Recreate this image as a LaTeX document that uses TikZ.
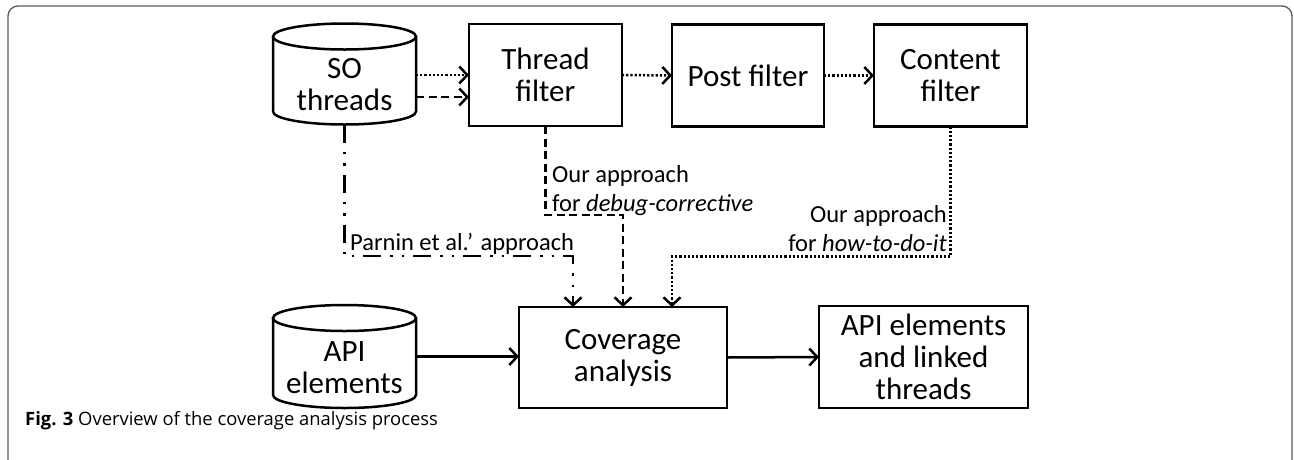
\documentclass[tikz,border=0pt]{standalone}
\usepackage{fontspec}
\setmainfont{Carlito}
\newfontfamily\capfont{Open Sans}
\usetikzlibrary{arrows.meta}
\begin{document}
\begin{tikzpicture}[x=1pt,y=-1pt,
  box/.style={draw, line width=2.5pt, inner sep=0pt, outer sep=0pt, align=center,
    font=\fontsize{31}{32}\selectfont},
  cylnode/.style={inner sep=0pt, outer sep=0pt},
  cyltext/.style={inner sep=0pt, align=center, font=\fontsize{31}{32}\selectfont},
  conn/.style={line width=2.5pt, -{Straight Barb[length=8pt,width=17pt]}},
  dotline/.style={dash pattern=on 2.2pt off 2pt},
  dashline/.style={dash pattern=on 8pt off 4.5pt},
  ddline/.style={dash pattern=on 18pt off 9pt on 2.5pt off 9pt on 2.5pt off 9pt},
  lbl/.style={inner sep=0pt, font=\fontsize{24.5}{29}\selectfont},
  frame/.style={draw=black!65, line width=1.3pt, rounded corners=10pt}
]
\useasboundingbox (0,0) rectangle (1294,459);
\draw[frame] (8,475) -- (8,6) -- (1292,6) -- (1292,475);

% nodes
\node[cylnode, minimum width=143pt, minimum height=101pt] (so) at (344.5,74) {};
\node[cyltext] (sot) at ([yshift=-11pt]so.center) {SO\\threads};
\node[box, minimum width=153pt, minimum height=102pt] (tf) at (545.5,75) {Thread\\filter};
\node[box, minimum width=152pt, minimum height=102pt] (pf) at (748,75.5) {Post filter};
\node[box, minimum width=153pt, minimum height=102pt] (cf) at (950.5,75.5) {Content\\filter};
\node[cylnode, minimum width=143pt, minimum height=103pt] (api) at (344.5,356.5) {};
\node[cyltext] (apit) at ([yshift=-11pt]api.center) {API\\elements};
\node[box, minimum width=208pt, minimum height=101pt] (cov) at (623,357.5) {Coverage\\analysis};
\node[box, minimum width=209pt, minimum height=102pt] (out) at (923.5,357) {API elements\\and linked\\threads};

% cylinders
\foreach \c in {so,api}{
  \draw[line width=2.5pt] ([yshift=-13pt]\c.north west) -- ([yshift=13pt]\c.south west)
     arc[start angle=180,end angle=360,x radius=71.5pt,y radius=13pt]
     -- ([yshift=-13pt]\c.north east);
  \draw[line width=2.5pt] ([yshift=-13pt]\c.north) ellipse [x radius=71.5pt, y radius=13pt];
}

% connectors
\coordinate (tfdash) at ([yshift=-22pt]tf.west);
\coordinate (covl) at ([xshift=-50pt]cov.north);
\coordinate (covr) at ([xshift=49pt]cov.north);
\draw[conn, dotline] (so.east |- tf.west) -- (tf.west);
\draw[conn, dashline] (so.east |- tfdash) -- (tfdash);
\draw[conn, dotline] (tf.east) -- (pf.west);
\draw[conn, dotline] (pf.east) -- (cf.west);
\draw[conn, dashline] (tf.south) -- ++(0,89) -| (cov.north);
\draw[conn, dotline] (cf.south) -- ++(0,130) -| (covr);
\draw[conn, ddline] (so.south) -- ++(0,131.5) -| (covl);
\draw[conn] (api.east) -- (api.east -| cov.west);
\draw[conn] (cov.east) -- (out.west);

% labels
\node[lbl, anchor=base west, align=left] (l1) at (552,211) {Our approach\\for \textit{debug-corrective}};
\node[lbl, anchor=base west] (l2) at (350,250) {Parnin et al.’ approach};
\node[lbl, anchor=base east, align=right] (l3) at (947,251) {Our approach\\for \textit{how-to-do-it}};

% caption
\node[anchor=base west, inner sep=0pt, font=\capfont\fontsize{18.4}{21}\selectfont] (cap) at (25,425)
  {\textbf{Fig. 3} Overview of the coverage analysis process};
\end{tikzpicture}
\end{document}
